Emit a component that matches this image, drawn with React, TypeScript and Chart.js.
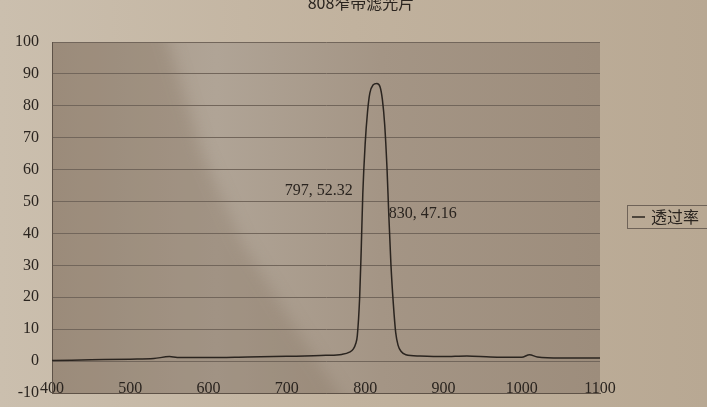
import { useEffect, useRef } from 'react';
import Chart from 'chart.js/auto';

const chartTitle = '808窄带滤光片';
const seriesName = '透过率';

// wavelength (nm) and transmittance (%)
const wavelengths = [
  400, 450, 500, 530, 550, 560, 600, 650, 700, 750, 770, 780, 785, 788, 790, 793, 795, 797, 800,
  803, 806, 810, 815, 819, 822, 825, 828, 830, 833, 836, 839, 842, 846, 852, 870, 900, 930, 960,
  1000, 1010, 1020, 1050, 1100,
];
const transmittance = [
  0.2, 0.4, 0.6, 0.8, 1.4, 1.1, 1.1, 1.3, 1.5, 1.8, 2.1, 2.8, 3.8, 5.5, 8, 20, 35, 52.32, 68,
  78, 84, 86.5, 87, 86, 82, 74, 60, 47.16, 30, 18, 9, 5, 3, 2, 1.6, 1.4, 1.6, 1.3,
  1.2, 2.0, 1.3, 1.0, 1.0,
];

// the two points printed with their values
const markedX = [797, 830];
const markedY = [52.32, 47.16];

const ink = '#2a241f';
const serif = "'Liberation Serif', 'DejaVu Serif', serif";

const paperPlugin = {
  id: 'paper',
  beforeDraw(chart: Chart) {
    const { ctx, width, height, chartArea } = chart;
    ctx.save();
    const bg = ctx.createLinearGradient(0, 0, width, 0);
    bg.addColorStop(0, '#cbbfae');
    bg.addColorStop(0.5, '#c1b29e');
    bg.addColorStop(1, '#b8a893');
    ctx.fillStyle = bg;
    ctx.fillRect(0, 0, width, height);

    const { left, top, right, bottom } = chartArea;
    const plot = ctx.createLinearGradient(left, 0, right, 0);
    plot.addColorStop(0, '#a89989');
    plot.addColorStop(0.3, '#b0a496');
    plot.addColorStop(0.6, '#a49585');
    plot.addColorStop(1, '#9d8d7c');
    ctx.fillStyle = plot;
    ctx.fillRect(left, top, right - left, bottom - top);

    // shadow over the lower left of the photo
    ctx.beginPath();
    ctx.rect(left, top, right - left, bottom - top);
    ctx.clip();
    ctx.filter = 'blur(8px)';
    ctx.beginPath();
    ctx.moveTo(left - 20, top - 20);
    ctx.lineTo(left + 110, top - 20);
    ctx.lineTo(left + 150, top + 110);
    ctx.lineTo(left + 190, top + 200);
    ctx.lineTo(left + 240, top + 280);
    ctx.lineTo(left + 300, bottom + 20);
    ctx.lineTo(left - 20, bottom + 20);
    ctx.closePath();
    ctx.fillStyle = 'rgba(120,100,82,0.26)';
    ctx.fill();
    ctx.filter = 'none';
    ctx.restore();
  },
};

const textPlugin = {
  id: 'printedText',
  afterDraw(chart: Chart) {
    const { ctx } = chart;
    const xs = chart.scales.x;
    const ys = chart.scales.y;
    ctx.save();
    ctx.fillStyle = ink;

    // title, cut off by the top of the photo
    ctx.font = "16px 'Noto Sans CJK SC', sans-serif";
    ctx.textAlign = 'center';
    ctx.textBaseline = 'middle';
    ctx.fillText(chartTitle, 361, 3);

    // data labels
    ctx.font = `16px ${serif}`;
    markedX.forEach((x, i) => {
      const px = xs.getPixelForValue(x);
      const py = ys.getPixelForValue(markedY[i]);
      const text = `${x}, ${markedY[i]}`;
      if (i === 0) {
        ctx.textAlign = 'right';
        ctx.fillText(text, px - 10, py - 3);
      } else {
        ctx.textAlign = 'left';
        ctx.fillText(text, px, py + 3);
      }
    });

    // legend
    const lx = 627;
    const ly = 205;
    ctx.strokeStyle = '#6f6358';
    ctx.lineWidth = 1;
    ctx.strokeRect(lx + 0.5, ly + 0.5, 90, 23);
    ctx.strokeStyle = ink;
    ctx.lineWidth = 1.5;
    ctx.beginPath();
    ctx.moveTo(lx + 5, ly + 12);
    ctx.lineTo(lx + 18, ly + 12);
    ctx.stroke();
    ctx.textAlign = 'left';
    ctx.font = "16px 'Noto Sans CJK SC', sans-serif";
    ctx.fillText(seriesName, lx + 24, ly + 12);
    ctx.restore();
  },
};

export default function App() {
  const chartRef = useRef<HTMLCanvasElement>(null);
  const chartInstance = useRef<Chart | null>(null);

  useEffect(() => {
    if (!chartRef.current) return;

    if (chartInstance.current) {
      chartInstance.current.destroy();
    }

    const ctx = chartRef.current.getContext('2d');
    if (!ctx) return;

    chartInstance.current = new Chart(ctx, {
      type: 'line',
      data: {
        datasets: [{
          label: seriesName,
          data: wavelengths.map((w, i) => ({ x: w, y: transmittance[i] })),
          borderColor: ink,
          borderWidth: 1.5,
          pointRadius: 0,
          cubicInterpolationMode: 'monotone',
          fill: false,
        }],
      },
      options: {
        responsive: true,
        maintainAspectRatio: false,
        animation: false,
        layout: {
          padding: { top: 42, right: 107, left: 0, bottom: 0 },
        },
        plugins: {
          legend: { display: false },
          title: { display: false },
          tooltip: { enabled: false },
        },
        scales: {
          x: {
            type: 'linear',
            min: 400,
            max: 1100,
            afterFit: (scale) => { scale.height = 14; },
            ticks: {
              stepSize: 100,
              mirror: true,
              padding: -5,
              color: ink,
              font: { family: serif, size: 16 },
              maxRotation: 0,
              callback: (value) => String(value),
            },
            grid: { display: false, drawTicks: false },
            border: { color: '#5e5247', width: 1 },
          },
          y: {
            min: -10,
            max: 100,
            afterFit: (scale) => {
              scale.width = 52;
              scale.paddingTop = 0;
              scale.paddingBottom = 0;
            },
            ticks: {
              stepSize: 10,
              padding: 13,
              color: ink,
              font: { family: serif, size: 16 },
            },
            grid: { color: '#72665b', lineWidth: 1, drawTicks: false },
            border: { color: '#5e5247', width: 1 },
          },
        },
      },
      plugins: [paperPlugin, textPlugin],
    });

    return () => {
      if (chartInstance.current) {
        chartInstance.current.destroy();
        chartInstance.current = null;
      }
    };
  }, []);

  return (
    <div style={{ position: 'fixed', left: 0, top: 0, width: 707, height: 407 }}>
      <canvas ref={chartRef} />
    </div>
  );
}
